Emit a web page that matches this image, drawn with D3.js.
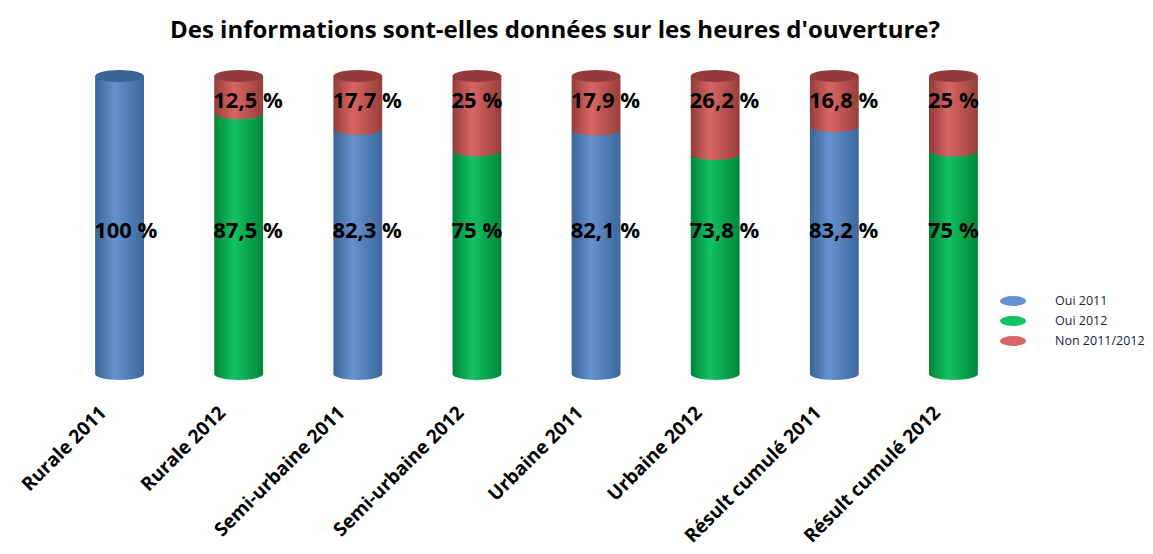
<!DOCTYPE html>
<html>
<head>
<meta charset="utf-8">
<script src="https://cdn.jsdelivr.net/npm/d3@7"></script>
<style>
  body { margin: 0; background: #fff; }
  text { font-family: "Open Sans", "Liberation Sans", sans-serif; }
</style>
</head>
<body>
<div class="chart"></div>
<script>
// data
let categories = ["Rurale 2011", "Rurale 2012", "Semi-urbaine 2011", "Semi-urbaine 2012",
                  "Urbaine 2011", "Urbaine 2012", "Résult cumulé 2011", "Résult cumulé 2012"];
let ouiValues = [100, 87.5, 82.3, 75, 82.1, 73.8, 83.2, 75];
let nonValues = [0, 12.5, 17.7, 25, 17.9, 26.2, 16.8, 25];
let ouiSeries = ["Oui 2011", "Oui 2012", "Oui 2011", "Oui 2012", "Oui 2011", "Oui 2012", "Oui 2011", "Oui 2012"];
let legendLabels = ["Oui 2011", "Oui 2012", "Non 2011/2012"];

let colors = {
  "Oui 2011": ["#3a6496", "#6592cf", "#3d679a"],
  "Oui 2012": ["#00843a", "#13c261", "#00873c"],
  "Non 2011/2012": ["#933c3a", "#d96663", "#963e3b"]
};

let width = 1153, height = 554;

let svg = d3.select(".chart")
  .append("svg")
  .attr("width", width)
  .attr("height", height);

// horizontal gradients to fake the cylinder shading
let defs = svg.append("defs");
Object.keys(colors).forEach(function(k, i) {
  let g = defs.append("linearGradient").attr("id", "g" + i)
    .attr("x1", "0%").attr("x2", "100%").attr("y1", "0%").attr("y2", "0%");
  g.append("stop").attr("offset", "0%").attr("stop-color", colors[k][0]);
  g.append("stop").attr("offset", "40%").attr("stop-color", colors[k][1]);
  g.append("stop").attr("offset", "100%").attr("stop-color", colors[k][2]);
});
let gradId = function(name) { return "url(#g" + Object.keys(colors).indexOf(name) + ")"; };

let x = d3.scaleBand()
  .domain(categories)
  .range([60, 1013])
  .paddingInner(0.59)
  .paddingOuter(0.295);

let y = d3.scaleLinear()
  .domain([0, 100])
  .range([374, 76]);

let ry = 6;

// title
svg.append("text")
  .attr("x", 555)
  .attr("y", 38)
  .attr("text-anchor", "middle")
  .style("font-size", "24px")
  .style("font-weight", "bold")
  .text("Des informations sont-elles données sur les heures d'ouverture?");

let bars = svg.selectAll(".bar")
  .data(categories)
  .enter()
  .append("g")
  .attr("class", "bar");

bars.each(function(c, i) {
  let g = d3.select(this);
  let x0 = x(c), w = x.bandwidth(), cx = x0 + w / 2;
  let segs = [
    { name: ouiSeries[i], lo: 0, hi: ouiValues[i], v: ouiValues[i], ly: y(50) + 5 },
    { name: "Non 2011/2012", lo: ouiValues[i], hi: ouiValues[i] + nonValues[i], v: nonValues[i], ly: y(100) + 24 }
  ].filter(function(s) { return s.hi > s.lo; });

  segs.forEach(function(s) {
    let yb = y(s.lo), yt = y(s.hi);
    // body with curved bottom
    g.append("path")
      .attr("d", "M" + x0 + "," + yt + " L" + x0 + "," + yb +
        " A" + (w / 2) + "," + ry + " 0 0 0 " + (x0 + w) + "," + yb +
        " L" + (x0 + w) + "," + yt + " Z")
      .attr("fill", gradId(s.name));
  });
  // top cap
  let top = segs[segs.length - 1];
  g.append("ellipse")
    .attr("cx", cx)
    .attr("cy", y(top.hi))
    .attr("rx", w / 2)
    .attr("ry", ry)
    .attr("fill", colors[top.name][0]);

  // value labels
  segs.forEach(function(s) {
    g.append("text")
      .attr("x", x0 - 1)
      .attr("y", s.ly)
      .attr("dy", "0.35em")
      .style("font-size", "22px")
      .style("font-weight", "bold")
      .attr("fill", "#000")
      .text(String(s.v).replace(".", ",") + " %");
  });
});

// category axis labels, rotated
svg.selectAll(".cat")
  .data(categories)
  .enter()
  .append("text")
  .attr("class", "cat")
  .attr("text-anchor", "end")
  .attr("transform", function(d) {
    return "translate(" + (x(d) + x.bandwidth() / 2 - 12) + ",414) rotate(-45)";
  })
  .style("font-size", "19px")
  .style("font-weight", "bold")
  .text(function(d) { return d; });

// legend
let legend = svg.selectAll(".legend")
  .data(legendLabels)
  .enter()
  .append("g")
  .attr("class", "legend")
  .attr("transform", function(d, i) { return "translate(1013," + (301 + i * 20) + ")"; });

legend.append("ellipse")
  .attr("rx", 13)
  .attr("ry", 5)
  .attr("fill", function(d) { return colors[d][1]; });

legend.append("text")
  .attr("x", 42)
  .attr("dy", "0.35em")
  .style("font-size", "12.5px")
  .attr("fill", "#1c1c3a")
  .text(function(d) { return d; });
</script>
</body>
</html>
